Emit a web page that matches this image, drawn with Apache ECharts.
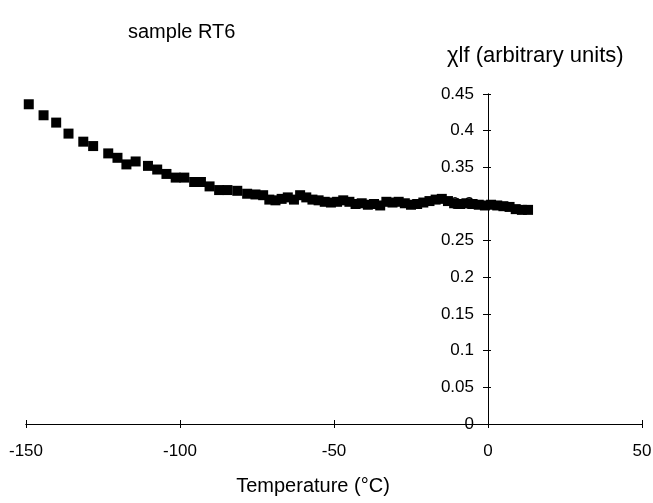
<!DOCTYPE html>
<html>
<head>
<meta charset="utf-8">
<script src="https://cdn.jsdelivr.net/npm/echarts@6/dist/echarts.min.js"></script>
<style>
  html, body { margin: 0; padding: 0; background: #fff; }
  #chart { width: 653px; height: 503px; }
</style>
</head>
<body>
<div id="chart"></div>
<script>
// temperature (°C) and chi lf
var temps = [-149.1, -144.3, -140.2, -136.2, -131.4, -128.2, -123.3, -120.3, -117.4, -114.4,
    -110.4, -107.4, -104.4, -101.4, -98.6, -95.4, -93.2, -90.4, -87.3, -84.6,
    -81.4, -78.2, -75.5, -73, -71, -69, -67, -65, -63, -61,
    -59, -57, -55, -53, -51, -49, -47, -45, -43, -41,
    -39, -37, -35, -33, -31, -29, -27, -25, -23, -21,
    -19, -17, -15, -13, -11, -9, -7, -5, -3, -1,
    1, 3, 5, 7, 9, 11, 13];
var chi = [0.436, 0.421, 0.411, 0.396, 0.385, 0.379, 0.369, 0.363, 0.354, 0.358,
    0.352, 0.347, 0.341, 0.336, 0.336, 0.330, 0.330, 0.324, 0.319, 0.319,
    0.318, 0.314, 0.313, 0.312, 0.306, 0.305, 0.307, 0.309, 0.306, 0.312,
    0.309, 0.306, 0.305, 0.303, 0.302, 0.303, 0.305, 0.303, 0.300, 0.301,
    0.299, 0.300, 0.298, 0.303, 0.302, 0.303, 0.301, 0.299, 0.300, 0.302,
    0.304, 0.306, 0.307, 0.304, 0.301, 0.300, 0.301, 0.300, 0.299, 0.298,
    0.299, 0.298, 0.297, 0.296, 0.293, 0.292, 0.292];
var xTicks = [-150, 50, 50];   // min, max, step
var yTicks = [0, 0.45, 0.05];

var points = [];
for (var i = 0; i < temps.length; i++) {
    points.push([temps[i], chi[i]]);
}

var font = 'Liberation Sans, Arial, sans-serif';
var lineStyle = { color: '#000', width: 1 };

// grid box, the y axis is moved in to sit on x = 0
var gridLeft = 26, gridRight = 11, chartW = 653;
var gridW = chartW - gridLeft - gridRight;
var yOffset = -gridW * (0 - xTicks[0]) / (xTicks[1] - xTicks[0]);

var chart = echarts.init(document.getElementById('chart'));
var option = {
    animation: false,
    backgroundColor: '#fff',
    title: [
        { text: 'sample RT6', left: 123, top: 17,
          textStyle: { fontFamily: font, fontSize: 20, fontWeight: 'normal', color: '#000' } },
        { text: 'χlf (arbitrary units)', left: 442, top: 40,
          textStyle: { fontFamily: font, fontSize: 22, fontWeight: 'normal', color: '#000' } }
    ],
    grid: { left: gridLeft, right: gridRight, top: 94, bottom: 79, outerBoundsMode: 'none', containLabel: false },
    xAxis: [
        {
            type: 'value', min: xTicks[0], max: xTicks[1], interval: xTicks[2],
            name: 'Temperature (°C)', nameLocation: 'middle', nameGap: 52,
            nameTextStyle: { fontFamily: font, fontSize: 20, color: '#000', padding: [0, 42, 0, 0] },
            axisLine: { onZero: false, lineStyle: lineStyle },
            axisTick: { show: true, length: 4, lineStyle: lineStyle },
            axisLabel: { fontFamily: font, fontSize: 17, color: '#000', margin: 19 },
            splitLine: { show: false }
        },
        {
            // second copy only for the inner half of the crossing ticks
            type: 'value', min: xTicks[0], max: xTicks[1], interval: xTicks[2],
            position: 'bottom',
            axisLine: { onZero: false, lineStyle: lineStyle },
            axisTick: { show: true, inside: true, length: 4, lineStyle: lineStyle },
            axisLabel: { show: false },
            splitLine: { show: false }
        }
    ],
    yAxis: [
        {
            type: 'value', min: yTicks[0], max: yTicks[1], interval: yTicks[2],
            position: 'left', offset: yOffset,
            axisLine: { onZero: false, lineStyle: lineStyle },
            axisTick: { show: true, length: 5, lineStyle: lineStyle },
            axisLabel: { fontFamily: font, fontSize: 17, color: '#000', margin: 14 },
            splitLine: { show: false }
        },
        {
            type: 'value', min: yTicks[0], max: yTicks[1], interval: yTicks[2],
            position: 'left', offset: yOffset,
            axisLine: { onZero: false, lineStyle: lineStyle },
            axisTick: { show: true, inside: true, length: 3, lineStyle: lineStyle },
            axisLabel: { show: false },
            splitLine: { show: false }
        }
    ],
    series: [
        {
            type: 'scatter',
            xAxisIndex: 0,
            yAxisIndex: 0,
            symbol: 'rect',
            symbolSize: 10,
            itemStyle: { color: '#000', opacity: 1 },
            data: points
        }
    ]
};
chart.setOption(option);
</script>
</body>
</html>
